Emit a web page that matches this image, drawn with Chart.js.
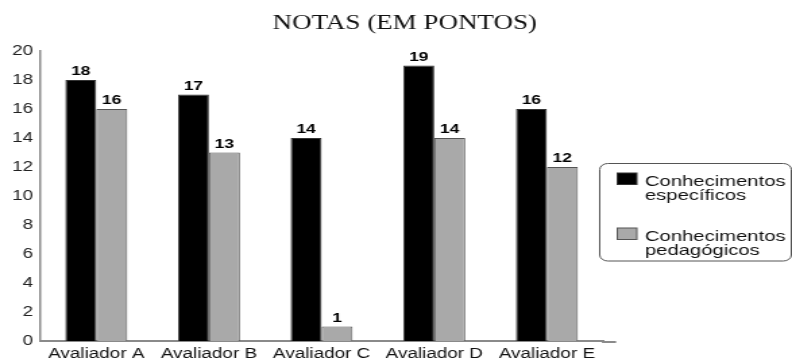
<!DOCTYPE html>
<html>
<head>
<meta charset="utf-8">
<script src="https://cdn.jsdelivr.net/npm/chart.js@4/dist/chart.umd.min.js"></script>
<style>
  html, body { margin: 0; padding: 0; background: #fff; overflow: hidden; }
  #wrap { width: 587px; height: 358px; transform: scaleX(1.34923); transform-origin: 0 0; }
  canvas { display: block; }
</style>
</head>
<body>
<div id="wrap"><canvas id="c" width="587" height="358" style="width:587px;height:358px"></canvas></div>
<script>
// Notas por avaliador
const categories = ['Avaliador A', 'Avaliador B', 'Avaliador C', 'Avaliador D', 'Avaliador E'];
const especificos = [18, 17, 14, 19, 16];
const pedagogicos = [16, 13, 1, 14, 12];
const seriesNames = [['Conhecimentos', 'específicos'], ['Conhecimentos', 'pedagógicos']];
const titleText = 'NOTAS (EM PONTOS)';
const yMin = 0, yMax = 20, yStep = 2;

const SANS = "'Liberation Sans', Arial, sans-serif";
const AXIS_COLOR = '#8a8a8a';

// value labels above each bar
const valueLabels = {
  id: 'valueLabels',
  afterDatasetsDraw(chart) {
    const ctx = chart.ctx;
    ctx.save();
    ctx.font = 'bold 13px ' + SANS;
    ctx.fillStyle = '#000';
    ctx.textAlign = 'center';
    ctx.textBaseline = 'alphabetic';
    chart.data.datasets.forEach((ds, i) => {
      chart.getDatasetMeta(i).data.forEach((bar, j) => {
        ctx.fillText(String(ds.data[j]), bar.x, bar.y - 5);
      });
    });
    ctx.restore();
  }
};

// boxed legend on the right, two-line entries
const boxLegend = {
  id: 'boxLegend',
  afterDraw(chart) {
    const ctx = chart.ctx;
    const a = chart.chartArea;
    ctx.save();
    // x axis runs a little past the last category
    ctx.strokeStyle = AXIS_COLOR;
    ctx.lineWidth = 2;
    ctx.beginPath();
    ctx.moveTo(a.right - 1, a.bottom + 1);
    ctx.lineTo(a.right + 9.5, a.bottom + 1);
    ctx.stroke();

    const bx = 444.5, by = 163.5, bw = 142, bh = 97.5, r = 6;
    ctx.strokeStyle = '#555';
    ctx.lineWidth = 1;
    ctx.beginPath();
    ctx.roundRect(bx, by, bw, bh, r);
    ctx.stroke();

    ctx.font = '15px ' + SANS;
    ctx.textAlign = 'left';
    ctx.textBaseline = 'alphabetic';
    const rowTop = [173, 228];
    chart.data.datasets.forEach((ds, i) => {
      const y = rowTop[i];
      ctx.fillStyle = ds.backgroundColor;
      ctx.fillRect(457.5, y, 14.5, 11.5);
      ctx.strokeStyle = ds.borderColor;
      ctx.strokeRect(457.5, y, 14.5, 11.5);
      ctx.fillStyle = '#111';
      seriesNames[i].forEach((line, k) => {
        ctx.fillText(line, 478, y + 13 + k * 13.5);
      });
    });
    ctx.restore();
  }
};

new Chart(document.getElementById('c'), {
  type: 'bar',
  data: {
    labels: categories,
    datasets: [
      {
        label: seriesNames[0].join(' '),
        data: especificos,
        backgroundColor: '#000000',
        borderColor: '#333333',
        borderWidth: 1
      },
      {
        label: seriesNames[1].join(' '),
        data: pedagogicos,
        backgroundColor: '#a9a9a9',
        borderColor: '#555555',
        borderWidth: 1
      }
    ]
  },
  options: {
    responsive: false,
    animation: false,
    devicePixelRatio: 1,
    // the negative right padding moves the title's centre a little to the right
    layout: { padding: { left: 0, right: -13, top: 0, bottom: 0 } },
    datasets: { bar: { barPercentage: 1, categoryPercentage: 0.55 } },
    plugins: {
      legend: { display: false },
      tooltip: { enabled: false },
      title: {
        display: true,
        text: titleText,
        color: '#111',
        font: { family: "'Liberation Serif', 'Times New Roman', serif", size: 20, weight: 'normal' },
        padding: { top: 12, bottom: 15 }
      }
    },
    scales: {
      x: {
        grid: { display: false, drawTicks: false },
        border: { display: true, color: AXIS_COLOR, width: 2 },
        ticks: {
          color: '#111',
          font: { family: SANS, size: 14 },
          padding: 5,
          maxRotation: 0,
          autoSkip: false
        },
        afterFit(scale) { scale.height = 17; }
      },
      y: {
        min: yMin,
        max: yMax,
        grid: { display: false, drawTicks: false },
        border: { display: true, color: AXIS_COLOR, width: 1.5 },
        ticks: {
          stepSize: yStep,
          color: '#222',
          font: { family: SANS, size: 14 },
          padding: 5
        },
        afterFit(scale) { scale.width = 29.6; }
      },
      yr: {
        position: 'right',
        grid: { display: false, drawTicks: false },
        border: { display: false },
        ticks: { display: false },
        afterFit(scale) { scale.width = 152.9; }
      }
    }
  },
  plugins: [valueLabels, boxLegend]
});
</script>
</body>
</html>
